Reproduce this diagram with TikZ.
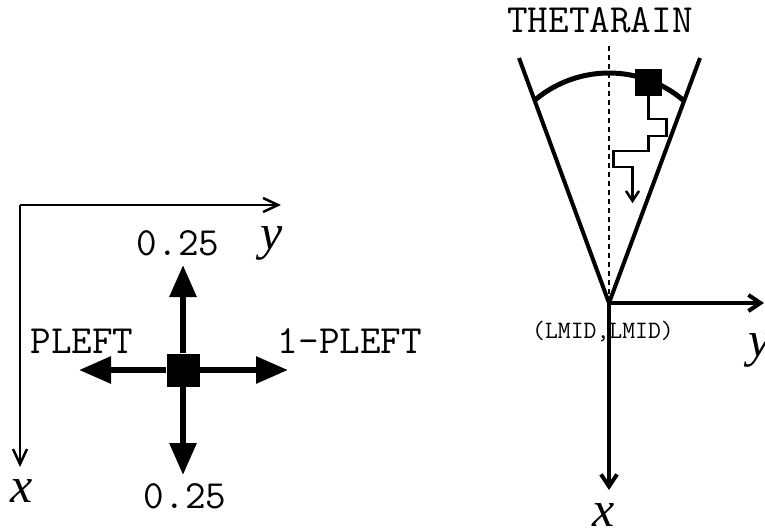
\documentclass[tikz,border=0pt]{standalone}
\usepackage{fontspec}
\setmainfont{Liberation Serif}
\usetikzlibrary{arrows.meta}
\tikzset{
  ejes/.style={-{Straight Barb[length=15pt,width=14pt,line width=2.5pt]},line width=2.5pt},
  ejesr/.style={-{Straight Barb[length=12pt,width=16pt,line width=4pt]},line width=4pt},
  flecha/.style={-{Triangle[length=32pt,width=26pt]},line width=6pt},
  cuadro/.style={fill=black,draw=none,inner sep=0pt},
  cono/.style={line width=4pt,line join=miter},
  guia/.style={dashed,dash pattern=on 5pt off 4pt,line width=1.3pt},
  escalera/.style={-{Straight Barb[length=10pt,width=13pt,line width=2.5pt]},line width=2.5pt,line join=miter},
  rotulo/.style={font=\fontsize{40}{44}\selectfont\ttfamily,anchor=base,inner sep=0pt},
  varx/.style={font=\fontsize{50}{56}\selectfont\itshape,anchor=base,inner sep=0pt}
}

\begin{document}
\begin{tikzpicture}[x=1pt,y=1pt]
\useasboundingbox (0,0) rectangle (765,-527);
% izquierda: probabilidades de paso
\coordinate (c1) at (20,-205); \coordinate (y1) at (281,-205); \coordinate (x1) at (20,-467);
\draw[ejes] (c1) -- (y1); \draw[ejes] (c1) -- (x1);
\node[varx] (ly1) at (272,-249) {y}; \node[varx] (lx1) at (22,-502) {x};
\node[cuadro,minimum size=33pt] (src) at (183,-370) {};
\coordinate (up) at (183,-265); \coordinate (dn) at (183,-475);
\coordinate (lf) at (79,-370); \coordinate (rt) at (288,-370);
\foreach \t in {up,dn,lf,rt}{\draw[flecha] (src) -- (\t);}
\node[rotulo] (pup) at (178,-255) {0.25}; \node[rotulo] (pdn) at (185,-508) {0.25};
\node[rotulo] (plf) at (82,-353) {PLEFT}; \node[rotulo] (prt) at (350,-353) {1-PLEFT};
% derecha: cono de lluvia
\coordinate (o) at (609,-303); \coordinate (top) at (609,-42);
\coordinate (cl) at (519,-58); \coordinate (cr) at (700,-58);
\coordinate (yr) at (764,-303); \coordinate (xr) at (609,-490);
\draw[guia] (o) -- (top);
\draw[cono] (cl) -- (o) -- (cr);
\draw[line width=5pt] (609,-188) ++(50:115) arc[start angle=50,end angle=130,radius=115];
\draw[ejesr] (o) -- (yr); \draw[ejesr] (o) -- (xr);
\node[cuadro,minimum size=27pt] (gota) at (648.5,-82.5) {};
\draw[escalera] (gota.south) -- ++(0,-23) -- ++(18,0) -- ++(0,-17) -- ++(-18,0) -- ++(0,-15) -- ++(-35,0) -- ++(0,-16) -- ++(19,0) -- ++(0,-36);
\node[rotulo] (th) at (600,-33) {THETARAIN};
\node[rotulo,font=\fontsize{25}{28}\selectfont\ttfamily] (lm) at (603,-338) {(LMID,LMID)};
\node[varx] (lyr) at (760,-356) {y}; \node[varx] (lxr) at (604,-526) {x};
\end{tikzpicture}
\end{document}
